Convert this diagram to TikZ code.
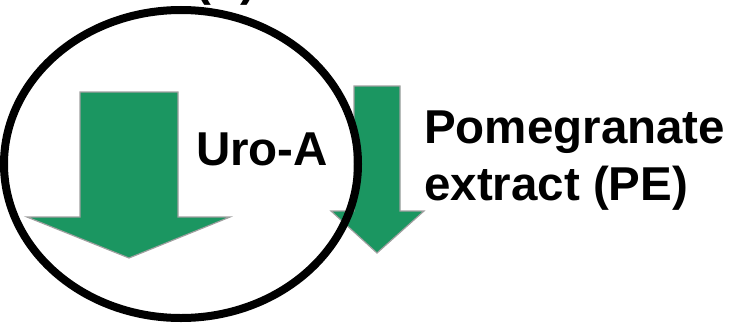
\documentclass[tikz,border=0pt]{standalone}
\usepackage{fontspec}
\setmainfont{Liberation Sans}
\definecolor{arrgreen}{RGB}{27,150,97}
\definecolor{arredge}{RGB}{160,160,160}
\tikzset{
  greenarrow/.style={fill=arrgreen, draw=arredge, line width=1.2pt, line join=miter},
  ringline/.style={draw=black, line width=8pt},
  lbl/.style={font=\bfseries\fontsize{47.5}{57}\selectfont, inner sep=0pt, text=black}
}
\begin{document}
\begin{tikzpicture}[x=1pt,y=-1pt]
\useasboundingbox (0,0) rectangle (735,324);
\clip (0,0) rectangle (735,324);
% big arrow
\draw[greenarrow] (80,92) -- (178,92) -- (178,217) -- (230,217) -- (129,258) -- (27,217) -- (80,217) -- cycle;
% small arrow
\draw[greenarrow] (354,86) -- (400,86) -- (400,211) -- (424,211) -- (377,253) -- (331,211) -- (354,211) -- cycle;
% ellipse
\draw[ringline] (181,164) ellipse [x radius=177, y radius=154];
% labels
\node[lbl, anchor=base west] (uro) at (196,165) {Uro-A};
\node[lbl, anchor=base west] (pom1) at (424,143) {Pomegranate};
\node[lbl, anchor=base west] (pom2) at (424,200) {extract (PE)};
\node[lbl, anchor=base] (panel) at (226,-5) {(?)};
\end{tikzpicture}
\end{document}
